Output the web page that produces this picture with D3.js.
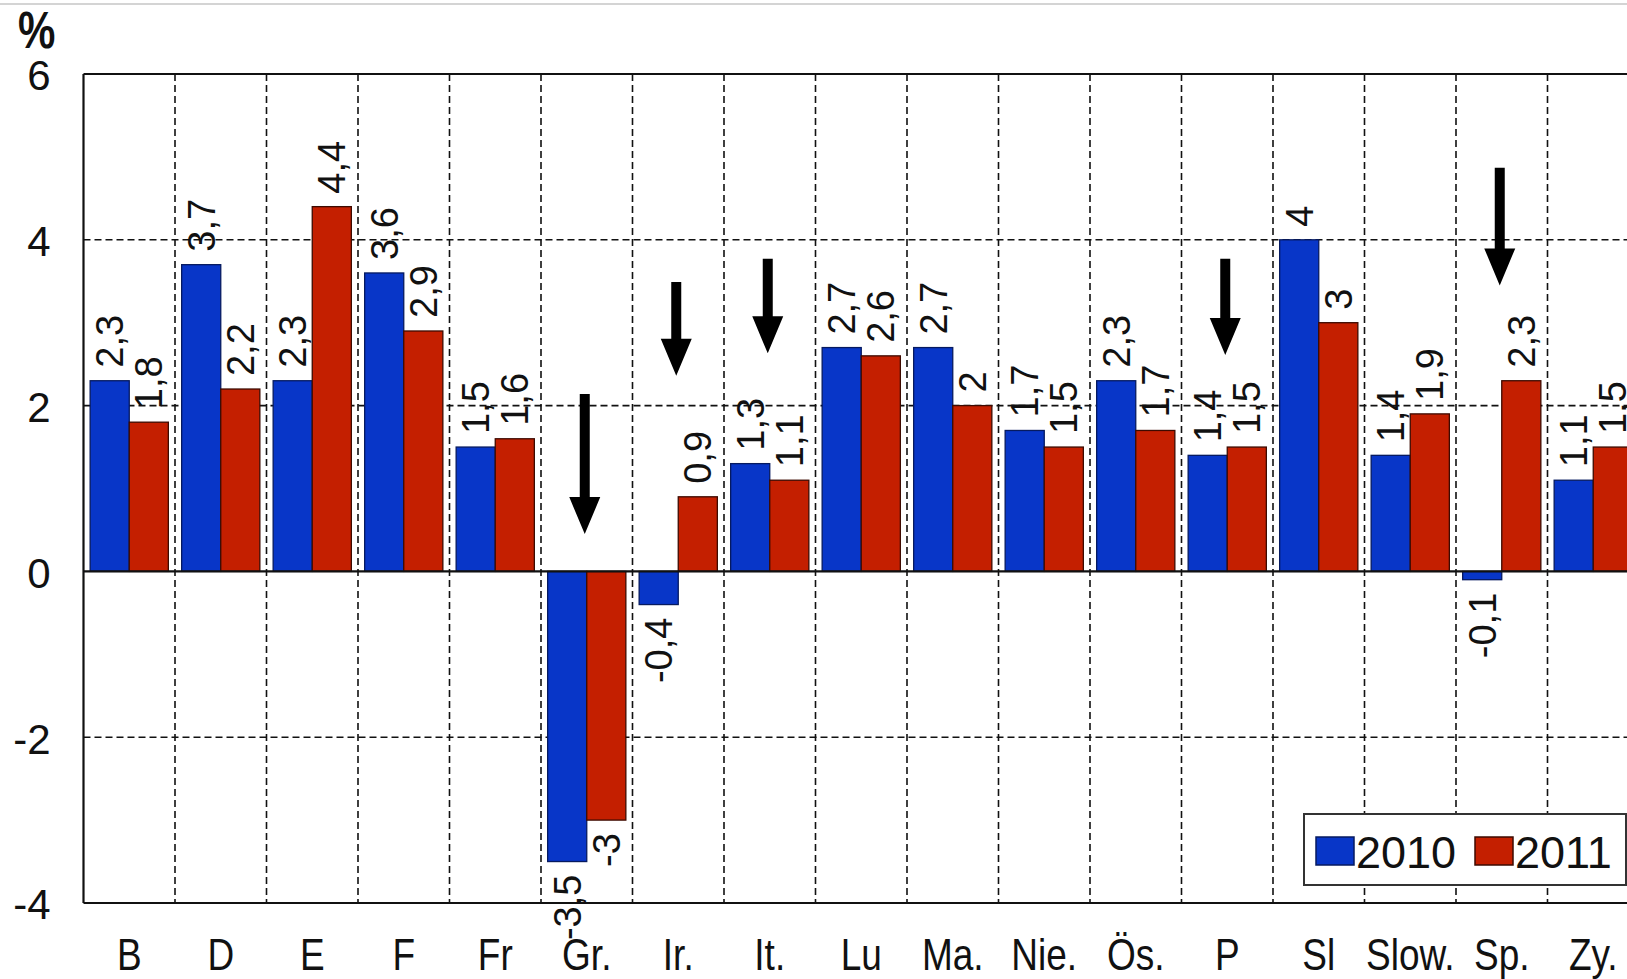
<!DOCTYPE html>
<html>
<head>
<meta charset="utf-8">
<script src="https://cdn.jsdelivr.net/npm/d3@7"></script>
<style>
  html, body { margin: 0; padding: 0; background: #fff; overflow: hidden; }
  svg { display: block; }
  text { font-family: "Liberation Sans", Arial, sans-serif; fill: #111; }
</style>
</head>
<body>
<svg id="chart" width="1627" height="979"></svg>
<script>
// Country abbreviations (German)
const categories = ["B", "D", "E", "F", "Fr", "Gr.", "Ir.", "It.", "Lu", "Ma.", "Nie.", "Ös.", "P", "Sl", "Slow.", "Sp.", "Zy."];
const seriesNames = ["2010", "2011"];
const values2010 = [2.3, 3.7, 2.3, 3.6, 1.5, -3.5, -0.4, 1.3, 2.7, 2.7, 1.7, 2.3, 1.4, 4, 1.4, -0.1, 1.1];
const values2011 = [1.8, 2.2, 4.4, 2.9, 1.6, -3, 0.9, 1.1, 2.6, 2, 1.5, 1.7, 1.5, 3, 1.9, 2.3, 1.5];
const yTicks = [-4, -2, 0, 2, 4, 6];
const yGridDashed = [-2, 2, 4];

// Down arrows flagging selected countries (shaft top and tip in % units)
const arrowCategories = ["Gr.", "Ir.", "It.", "P", "Sp."];
const arrowTop = [2.14, 3.49, 3.77, 3.77, 4.87];
const arrowTip = [0.45, 2.36, 2.63, 2.61, 3.45];

const colors = { "2010": "#0836c8", "2011": "#c41f00" };
const strokes = { "2010": "#061a60", "2011": "#3d0a00" };

const svg = d3.select("#chart");

const plotLeft = 83.5, plotTop = 74, plotBottom = 903;
const step = 91.5;
const plotRight = plotLeft + step * categories.length;

const x = d3.scaleBand().domain(categories).range([plotLeft, plotRight]).padding(0);
const xInner = d3.scaleBand().domain(seriesNames).range([0, x.bandwidth()]).paddingInner(0).paddingOuter(0.17);
const y = d3.scaleLinear().domain([-4, 6]).range([plotBottom, plotTop]);

// thin grey rule along the very top
svg.append("line").attr("x1", 0).attr("x2", 1627).attr("y1", 4).attr("y2", 4)
  .attr("stroke", "#d4d4d4").attr("stroke-width", 2);

// "%" unit label
svg.append("text")
  .attr("x", 18).attr("y", 0)
  .attr("font-size", 42).attr("font-weight", "bold")
  .attr("transform", "translate(0,48) scale(1,1.25)")
  .text("%");

// grid
const grid = svg.append("g");
grid.selectAll("line.h").data(yGridDashed).join("line")
  .attr("x1", plotLeft).attr("x2", plotRight)
  .attr("y1", d => y(d)).attr("y2", d => y(d))
  .attr("stroke", "#111").attr("stroke-width", 1.6).attr("stroke-dasharray", "7,4");
grid.selectAll("line.v").data(categories.slice(1)).join("line")
  .attr("x1", d => x(d)).attr("x2", d => x(d))
  .attr("y1", plotTop).attr("y2", plotBottom)
  .attr("stroke", "#111").attr("stroke-width", 1.6).attr("stroke-dasharray", "7,4");

// bars
const rows = categories.map((c, i) => ({ cat: c, vals: [values2010[i], values2011[i]] }));
const groups = svg.append("g").selectAll("g").data(rows).join("g")
  .attr("transform", d => `translate(${x(d.cat)},0)`);
groups.selectAll("rect").data(d => seriesNames.map((s, k) => ({ s, v: d.vals[k] }))).join("rect")
  .attr("x", d => xInner(d.s))
  .attr("width", xInner.bandwidth())
  .attr("y", d => y(Math.max(0, d.v)))
  .attr("height", d => Math.abs(y(d.v) - y(0)))
  .attr("fill", d => colors[d.s])
  .attr("stroke", d => strokes[d.s]).attr("stroke-width", 1.3);

// value labels, rotated
const fmt = v => String(v).replace(".", ",");
groups.selectAll("text").data(d => seriesNames.map((s, k) => ({ s, v: d.vals[k] }))).join("text")
  .attr("font-size", 38)
  .attr("text-anchor", d => d.v >= 0 ? "start" : "end")
  .attr("dy", "0.36em")
  .attr("transform", d => {
    const cx = xInner(d.s) + xInner.bandwidth() / 2;
    const cy = d.v >= 0 ? y(d.v) - 13 : y(d.v) + 13;
    return `translate(${cx},${cy}) rotate(-90)`;
  })
  .text(d => fmt(d.v));

// frame: zero line, left, top and bottom axes
const frame = svg.append("g").attr("stroke", "#111").attr("stroke-width", 2.2);
frame.append("line").attr("x1", plotLeft).attr("x2", plotRight).attr("y1", y(0)).attr("y2", y(0));
frame.append("line").attr("x1", plotLeft).attr("x2", plotRight).attr("y1", y(6)).attr("y2", y(6));
frame.append("line").attr("x1", plotLeft).attr("x2", plotRight).attr("y1", y(-4)).attr("y2", y(-4));
frame.append("line").attr("x1", plotLeft).attr("x2", plotLeft).attr("y1", plotTop).attr("y2", plotBottom);

// y axis labels
const yAxis = svg.append("g").attr("transform", `translate(${plotLeft},0)`)
  .call(d3.axisLeft(y).tickValues(yTicks).tickSize(0).tickPadding(33).tickFormat(d => String(d)));
yAxis.select(".domain").remove();
yAxis.selectAll("text").attr("font-size", 42).attr("fill", "#111")
  .attr("font-family", "'Liberation Sans', Arial, sans-serif").attr("dy", "0.38em");

// x axis labels
const xAxis = svg.append("g").attr("transform", `translate(0,${plotBottom})`)
  .call(d3.axisBottom(x).tickSize(0).tickPadding(0));
xAxis.select(".domain").remove();
xAxis.selectAll("text")
  .attr("font-size", 37).attr("fill", "#111")
  .attr("font-family", "'Liberation Sans', Arial, sans-serif")
  .attr("dy", 0).attr("y", 0)
  .attr("transform", "translate(0,67) scale(1,1.22)");

// arrows
const aw = 10, hw = 31, hl = 37;
svg.append("g").selectAll("path").data(arrowCategories.map((c, i) => ({ c, t: arrowTop[i], b: arrowTip[i] }))).join("path")
  .attr("fill", "#000")
  .attr("d", d => {
    const cx = x(d.c) + x.bandwidth() / 2 - 2;
    const y0 = y(d.t), y1 = y(d.b);
    return `M${cx - aw / 2},${y0} L${cx + aw / 2},${y0} L${cx + aw / 2},${y1 - hl} L${cx + hw / 2},${y1 - hl} L${cx},${y1} L${cx - hw / 2},${y1 - hl} L${cx - aw / 2},${y1 - hl} Z`;
  });

// legend
const lg = svg.append("g").attr("transform", "translate(1304,814)");
lg.append("rect").attr("width", 322).attr("height", 71).attr("fill", "#fff")
  .attr("stroke", "#333").attr("stroke-width", 2);
const items = lg.selectAll("g").data(seriesNames).join("g")
  .attr("transform", (d, i) => `translate(${12 + i * 159},0)`);
items.append("rect").attr("y", 23).attr("width", 38).attr("height", 28)
  .attr("fill", d => colors[d]).attr("stroke", d => strokes[d]).attr("stroke-width", 1.5);
items.append("text").attr("x", 40).attr("y", 54).attr("font-size", 45).text(d => d);
</script>
</body>
</html>
